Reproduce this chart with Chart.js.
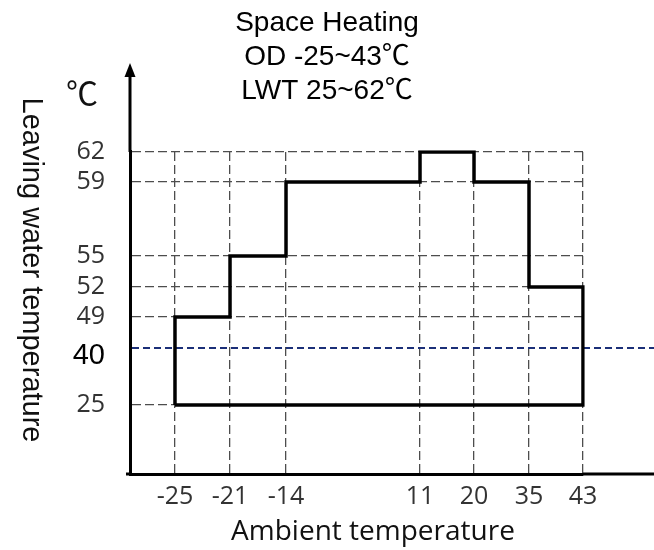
<!DOCTYPE html>
<html>
<head>
<meta charset="utf-8">
<title>Space Heating operating range</title>
<script src="https://cdn.jsdelivr.net/npm/chart.js@4.4.1/dist/chart.umd.min.js"></script>
<style>
    html, body { margin: 0; padding: 0; background: #fff; }
    canvas { display: block; }
</style>
</head>
<body>
<canvas id="envelopeChart" width="654" height="550"></canvas>
<script>
const titleLines = ['Space Heating', 'OD -25~43℃', 'LWT 25~62℃']
const ambientTicks = [-25, -21, -14, 11, 20, 35, 43]
const waterTicks = [25, 40, 49, 52, 55, 59, 62]
const envelopeAmbient = [-25, -25, -21, -21, -14, -14, 11, 11, 20, 20, 35, 35, 43, 43, -25]
const envelopeWater = [25, 49, 49, 55, 55, 59, 59, 62, 62, 59, 59, 52, 52, 25, 25]
const referenceWater = 40
const xAxisTitle = 'Ambient temperature'
const yAxisTitle = 'Leaving water temperature'
const yUnit = '℃'

// the drawing is not to scale: where each tick sits along its axis (0 = start, 1 = end)
const tickPlacement = {
    x: [0.0993, 0.2208, 0.3444, 0.6402, 0.7594, 0.8808, 1],
    y: [0.2143, 0.3913, 0.4876, 0.5807, 0.6770, 0.9068, 1],
}

const gridColor = '#4d4d4d'
const labelFont = { family: "'Open Sans', sans-serif", size: 25 }
const refLabelFont = { family: "'Liberation Sans', Arial, sans-serif", size: 29, lineHeight: 0.55 }

const isRefTick = c => c.tick && c.tick.value === referenceWater

// linear scale that puts the ticks where the original drawing has them
class StopScale extends Chart.LinearScale {
    stopValues() {
        return this.axis === 'x' ? ambientTicks : waterTicks
    }
    buildTicks() {
        return this.stopValues().map(value => ({ value }))
    }
    getPixelForValue(value) {
        const values = this.stopValues()
        const at = tickPlacement[this.axis]
        let i = 1
        while (i < values.length - 1 && value > values[i]) i++
        const t = (value - values[i - 1]) / (values[i] - values[i - 1])
        return this.getPixelForDecimal(at[i - 1] + t * (at[i] - at[i - 1]))
    }
}
StopScale.id = 'stops'
StopScale.defaults = {}
Chart.register(StopScale)

const envelopeDecor = {
    id: 'envelopeDecor',
    beforeDatasetsDraw(chart) {
        const { ctx, chartArea, scales: { y } } = chart
        ctx.save()
        // axis lines running on past the plot box, with the arrow on top
        ctx.strokeStyle = '#000'
        ctx.lineWidth = 3
        ctx.beginPath()
        ctx.moveTo(chartArea.left - 4, chartArea.bottom)
        ctx.lineTo(chartArea.left, chartArea.bottom)
        ctx.moveTo(chartArea.right, chartArea.bottom)
        ctx.lineTo(chart.width, chartArea.bottom)
        ctx.moveTo(chartArea.left, chartArea.top)
        ctx.lineTo(chartArea.left, 74)
        ctx.stroke()
        ctx.fillStyle = '#000'
        ctx.beginPath()
        ctx.moveTo(chartArea.left, 63)
        ctx.lineTo(chartArea.left - 5.5, 77)
        ctx.lineTo(chartArea.left + 5.5, 77)
        ctx.closePath()
        ctx.fill()

        // 40 degree reference line
        const yRef = y.getPixelForValue(referenceWater)
        ctx.strokeStyle = '#1b2f78'
        ctx.lineWidth = 2
        ctx.setLineDash([7, 4])
        ctx.beginPath()
        ctx.moveTo(chartArea.left + 2, yRef)
        ctx.lineTo(chart.width, yRef)
        ctx.stroke()
        ctx.restore()
    },
    afterDraw(chart) {
        const { ctx, scales: { x } } = chart
        ctx.save()
        ctx.fillStyle = '#111'
        ctx.textAlign = 'center'
        ctx.textBaseline = 'middle'

        ctx.font = "32px 'Noto Sans CJK SC', sans-serif"
        ctx.fillText(yUnit, 82, 93)

        ctx.font = "28px 'Open Sans', sans-serif"
        const xMid = (x.getPixelForValue(ambientTicks[0]) + x.getPixelForValue(ambientTicks[ambientTicks.length - 1])) / 2
        ctx.fillText(xAxisTitle, xMid - 6, 532)

        ctx.translate(31, 270)
        ctx.rotate(Math.PI / 2)
        ctx.font = "29px 'Liberation Sans', Arial, sans-serif"
        ctx.fillText(yAxisTitle, 0, 0)
        ctx.restore()
    }
}

new Chart(document.getElementById('envelopeChart'), {
    type: 'line',
    data: {
        datasets: [{
            data: envelopeAmbient.map((x, i) => ({ x, y: envelopeWater[i] })),
            borderColor: '#000',
            borderWidth: 3.5,
            borderJoinStyle: 'miter',
            pointRadius: 0,
            tension: 0,
            fill: false,
        }]
    },
    options: {
        responsive: false,
        animation: false,
        events: [],
        layout: { padding: 0 },
        plugins: {
            legend: { display: false },
            tooltip: { enabled: false },
            title: {
                display: true,
                text: titleLines,
                color: '#000',
                font: {
                    family: "'Liberation Sans', Arial, 'Noto Sans CJK SC', sans-serif",
                    size: 28,
                    weight: 'normal',
                    lineHeight: 1.22,
                },
                padding: { top: 6, bottom: 43.5 },
            },
        },
        scales: {
            x: {
                type: 'stops',
                position: 'bottom',
                grid: { color: gridColor, lineWidth: 1.3, drawTicks: false },
                border: { display: true, color: '#000', width: 3, dash: [9, 4] },
                ticks: {
                    font: labelFont,
                    color: '#333',
                    padding: 8,
                    autoSkip: false,
                    maxRotation: 0,
                    callback: value => String(value),
                },
                afterFit: scale => {
                    scale.height = 76
                    scale.paddingRight = 71
                },
            },
            y: {
                type: 'stops',
                position: 'left',
                grid: {
                    color: c => isRefTick(c) ? 'rgba(0,0,0,0)' : gridColor,
                    lineWidth: 1.3,
                    drawTicks: false,
                },
                border: { display: true, color: '#000', width: 3, dash: [9, 4] },
                ticks: {
                    font: c => isRefTick(c) ? refLabelFont : labelFont,
                    color: c => isRefTick(c) ? '#000' : '#333',
                    padding: 25,
                    // the 40 label sits a little under its line in the drawing
                    callback: value => value === referenceWater ? ['', String(value)] : String(value),
                },
                afterFit: scale => {
                    scale.width = 130
                },
            },
        },
    },
    plugins: [envelopeDecor],
})
</script>
</body>
</html>
